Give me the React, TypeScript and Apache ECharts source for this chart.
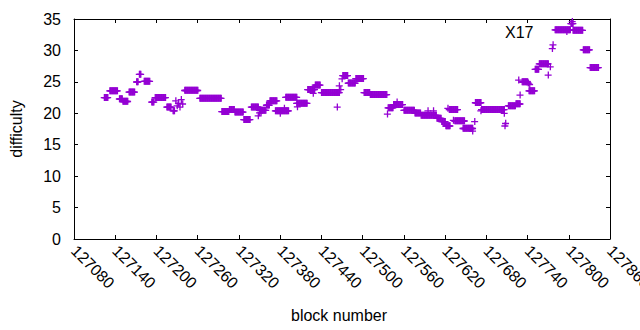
import React, { useEffect, useRef } from "react";
import * as echarts from "echarts";

// Runs of consecutive blocks sharing the same difficulty
const runStart = [
  127124, 127132, 127146, 127151, 127160, 127171, 127175, 127182, 127193, 127198,
  127215, 127224, 127241, 127263, 127295, 127306, 127314, 127327, 127338, 127350,
  127360, 127365, 127373, 127388, 127404, 127420, 127431, 127440, 127471, 127479,
  127490, 127502, 127511, 127537, 127545, 127560, 127576, 127585, 127608, 127615,
  127621, 127626, 127634, 127646, 127664, 127673, 127712, 127723, 127732, 127742,
  127751, 127757, 127780, 127803, 127806, 127821, 127831,
];
const runEnd = [
  127129, 127143, 127150, 127158, 127168, 127173, 127177, 127190, 127196, 127213,
  127221, 127226, 127260, 127294, 127305, 127313, 127326, 127336, 127348, 127359,
  127364, 127375, 127392, 127404, 127419, 127430, 127438, 127466, 127478, 127489,
  127501, 127510, 127535, 127544, 127558, 127575, 127584, 127607, 127614, 127620,
  127627, 127638, 127648, 127660, 127672, 127706, 127722, 127729, 127740, 127750,
  127756, 127770, 127802, 127806, 127820, 127830, 127843,
];
const runValue = [
  22.5, 23.6, 22.3, 21.9, 23.4, 25.0, 26.2, 25.1, 21.8, 22.5,
  21.0, 20.4, 23.65, 22.4, 20.3, 20.6, 20.2, 19.0, 21.0, 20.5,
  21.3, 22.0, 20.4, 22.55, 21.6, 23.8, 24.5, 23.3, 26.0, 24.8,
  25.55, 23.3, 23.0, 20.9, 21.4, 20.5, 20.05, 19.7, 19.2, 18.7,
  18.0, 20.6, 18.8, 17.6, 21.7, 20.6, 21.2, 21.5, 25.0, 23.6,
  27.0, 27.9, 33.3, 34.3, 33.2, 30.1, 27.3,
];

// Isolated blocks whose difficulty stands apart from the runs
const pointBlock = [
  127228, 127230, 127232, 127234, 127236, 127238, 127348, 127350, 127352, 127380,
  127386, 127405, 127428, 127463, 127466, 127468, 127470, 127536, 127550, 127595,
  127603, 127624, 127632, 127660, 127663, 127672, 127706, 127707, 127708, 127729,
  127727, 127741, 127743, 127770, 127773, 127776, 127777, 127797, 127805,
];
const pointValue = [
  22.0, 21.2, 21.6, 21.0, 22.2, 21.5, 19.6, 20.1, 20.2, 20.0,
  20.8, 21.05, 23.2, 21.0, 24.4, 23.8, 25.5, 19.9, 21.8, 20.4,
  20.4, 20.8, 18.9, 17.2, 18.7, 20.4, 20.0, 18.0, 18.4, 22.9,
  25.3, 24.8, 24.6, 26.1, 27.4, 30.3, 30.9, 33.0, 34.6,
];

const xMin = 127080;
const xMax = 127860;
const xStep = 60;
const yMin = 0;
const yMax = 35;
const yStep = 5;

const FONT = "Liberation Sans, Arial, sans-serif";
const COLOR = "#9400d3";

export default function App() {
  const ref = useRef<HTMLDivElement>(null);

  useEffect(() => {
    if (!ref.current) return;
    const chart = echarts.init(ref.current, undefined, { renderer: "svg" });

    const data: number[][] = [];
    for (let i = 0; i < runStart.length; i++) {
      for (let b = runStart[i]; b <= runEnd[i]; b++) data.push([b, runValue[i]]);
    }
    for (let i = 0; i < pointBlock.length; i++) data.push([pointBlock[i], pointValue[i]]);

    const axisLine = { show: true, onZero: false, lineStyle: { color: "#000", width: 1 } };
    const tick = { show: true, inside: true, length: 4, lineStyle: { color: "#000", width: 1 } };

    chart.setOption({
      animation: false,
      backgroundColor: "#fff",
      grid: {
        left: 74,
        right: 30,
        top: 19,
        bottom: 91,
        show: false,
        containLabel: false,
        outerBoundsMode: "none",
      },
      xAxis: [
        {
          type: "value",
          position: "bottom",
          min: xMin,
          max: xMax,
          interval: xStep,
          axisLine,
          axisTick: tick,
          splitLine: { show: false },
          axisLabel: {
            rotate: -45,
            margin: 9,
            color: "#000",
            fontSize: 16,
            fontFamily: FONT,
            formatter: (v: number) => String(v),
          },
        },
        {
          type: "value",
          position: "top",
          min: xMin,
          max: xMax,
          interval: xStep,
          axisLine,
          axisTick: tick,
          splitLine: { show: false },
          axisLabel: { show: false },
        },
      ],
      yAxis: [
        {
          type: "value",
          position: "left",
          min: yMin,
          max: yMax,
          interval: yStep,
          axisLine,
          axisTick: tick,
          splitLine: { show: false },
          axisLabel: { margin: 13, color: "#000", fontSize: 16, fontFamily: FONT },
        },
        {
          type: "value",
          position: "right",
          min: yMin,
          max: yMax,
          interval: yStep,
          axisLine,
          axisTick: tick,
          splitLine: { show: false },
          axisLabel: { show: false },
        },
      ],
      graphic: [
        {
          type: "text",
          x: 16,
          y: 129,
          rotation: Math.PI / 2,
          style: {
            text: "difficulty",
            fill: "#000",
            fontSize: 16,
            fontFamily: FONT,
            align: "center",
            verticalAlign: "middle",
          },
        },
        {
          type: "text",
          x: 339,
          y: 315,
          style: {
            text: "block number",
            fill: "#000",
            fontSize: 16,
            fontFamily: FONT,
            align: "center",
            verticalAlign: "middle",
          },
        },
        {
          type: "text",
          x: 505,
          y: 32,
          style: {
            text: "X17",
            fill: "#000",
            fontSize: 16,
            fontFamily: FONT,
            align: "left",
            verticalAlign: "middle",
          },
        },
      ],
      series: [
        {
          type: "scatter",
          xAxisIndex: 0,
          yAxisIndex: 0,
          data,
          symbol: "path://M0,3 H7 V4.3 H0 Z M3,0 H4.3 V7 H3 Z",
          symbolSize: 7,
          itemStyle: { color: COLOR, opacity: 1 },
          emphasis: { disabled: true },
        },
      ],
    });

    return () => chart.dispose();
  }, []);

  return (
    <div
      ref={ref}
      style={{ position: "fixed", left: 0, top: 0, width: 640, height: 330, background: "#fff" }}
    />
  );
}
